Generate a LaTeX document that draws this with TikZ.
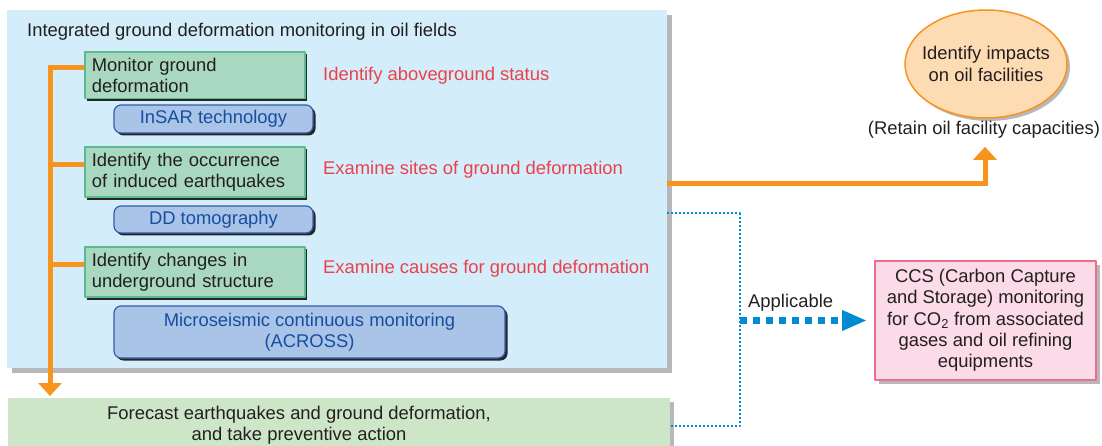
\documentclass[tikz,border=0pt]{standalone}
\usepackage{fontspec}
\setmainfont{Liberation Sans}
\usepackage{tikz}
\usetikzlibrary{arrows.meta}
\usetikzlibrary{calc}
\usetikzlibrary{shadows}
\usetikzlibrary{shapes.geometric}
\definecolor{textdark}{RGB}{35,31,32}
\definecolor{panelblue}{RGB}{212,237,250}
\definecolor{shadowgray}{RGB}{183,183,188}
\definecolor{greenfill}{RGB}{168,216,192}
\definecolor{greenline}{RGB}{92,186,142}
\definecolor{techfill}{RGB}{170,196,232}
\definecolor{techline}{RGB}{52,92,172}
\definecolor{techtext}{RGB}{22,78,160}
\definecolor{notered}{RGB}{234,66,76}
\definecolor{oilorange}{RGB}{247,148,30}
\definecolor{oilfill}{RGB}{253,220,180}
\definecolor{forecastfill}{RGB}{205,230,200}
\definecolor{ccsfill}{RGB}{251,219,232}
\definecolor{ccsline}{RGB}{235,110,140}
\definecolor{dotblue}{RGB}{0,140,210}
\tikzset{
  grayshadow/.style={drop shadow={shadow xshift=#1,shadow yshift=-#1,fill=shadowgray,opacity=1}},
  darkshadow/.style={drop shadow={shadow xshift=2.5pt,shadow yshift=-2.5pt,fill=black!85,opacity=1}},
  panel/.style={fill=panelblue,inner sep=0pt,grayshadow=4.5pt},
  greenbox/.style={draw=greenline,line width=1.6pt,fill=greenfill,minimum width=220pt,minimum height=45pt,
    text width=206pt,inner sep=6pt,align=left,darkshadow},
  techbox/.style={draw=techline,line width=1.2pt,fill=techfill,rounded corners=7pt,text=techtext,
    align=center,inner sep=0pt,darkshadow},
  note/.style={text=notered,anchor=west,inner sep=0pt},
  oilellipse/.style={ellipse,draw=oilorange,line width=1.5pt,fill=oilfill,minimum width=162pt,
    minimum height=108pt,inner xsep=-21pt,inner ysep=0pt,align=center,grayshadow=3pt},
  ccsbox/.style={draw=ccsline,line width=2pt,fill=ccsfill,minimum width=221pt,minimum height=119pt,
    inner sep=0pt,align=center,grayshadow=3.5pt},
  orangeline/.style={draw=oilorange,line width=5pt,line cap=butt,line join=miter},
  bluedot/.style={draw=dotblue,line width=2pt,line cap=butt,dash pattern=on 2pt off 2pt},
  bluearrow/.style={draw=dotblue,line width=7pt,line cap=butt,dash pattern=on 7pt off 6pt,
    -{Triangle[width=19pt,length=25pt]},shorten >=7pt}
}
\begin{document}
\begin{tikzpicture}[line cap=round,line join=round,>={Triangle[width=23pt,length=13pt]},x=1pt,y=-1pt,
  font=\fontsize{18.4}{21.3}\selectfont,text=textdark]
\useasboundingbox (0,0) rectangle (1102,446);
% panels
\node [panel,anchor=north west,minimum width=660pt,minimum height=358pt] (main) at (7,10) {};
\node [anchor=west,inner sep=0pt] (title) at (27,32) {Integrated ground deformation monitoring in oil fields};
\node [fill=forecastfill,inner sep=0pt,anchor=north west,minimum width=662pt,minimum height=60pt,grayshadow=3.5pt] (forecast) at (8,398) {};
\node [align=center,inner sep=0pt] (forecasttext) at (299,425) {Forecast earthquakes and ground deformation,\\and take preventive action};
% steps
\node [greenbox,anchor=north west] (monitor) at (84,51) {Monitor ground\\deformation};
\node [techbox,minimum width=199pt,minimum height=28pt] (insar) at (213.5,119) {InSAR technology};
\node [greenbox,anchor=north west] (quake) at (84,146) {Identify the occurrence\\of induced earthquakes};
\node [techbox,minimum width=199pt,minimum height=27pt] (dd) at (213.5,219.5) {DD tomography};
\node [greenbox,anchor=north west] (struct) at (84,246) {Identify changes in\\underground structure};
\node [techbox,minimum width=391pt,minimum height=52pt] (across) at (309.5,332) {Microseismic continuous monitoring\\(ACROSS)};
\node [note] (status) at (323,76) {Identify aboveground status};
\node [note] (sites) at (323,170) {Examine sites of ground deformation};
\node [note] (causes) at (323,269) {Examine causes for ground deformation};
% outcomes
\node [oilellipse] (impact) at (986,64) {Identify impacts\\on oil facilities};
\node [inner sep=0pt] (retain) at (984,130) {(Retain oil facility capacities)};
\node [ccsbox] (ccs) at (985.5,320.5) {CCS (Carbon Capture\\and Storage) monitoring\\for CO\textsubscript{2} from associated\\gases and oil refining\\equipments};
\node [anchor=west,inner sep=0pt] (applicable) at (748,303) {Applicable};
% connectors
\coordinate (spineend) at (50,396);
\coordinate (branchtwo) at ($(quake.west)+(0,-8)$);
\coordinate (branchthree) at ($(struct.west)+(0,-8)$);
\draw [orangeline,->] ($(monitor.west)+(0,-8)$) -| (spineend);
\draw [orangeline] (branchtwo) -- (branchtwo -| spineend);
\draw [orangeline] (branchthree) -- (branchthree -| spineend);
\coordinate (oilrun) at ($(main.east)+(0,-6)$);
\coordinate (oiltip) at ($(retain.south)+(1,8)$);
\draw [orangeline,->] (oilrun) -| (oiltip);
\coordinate (dotstart) at ($(main.east)+(0,24)$);
\coordinate (dotturn) at (740,426);
\draw [bluedot] (dotstart) -| (dotturn) -- (dotturn -| forecast.east);
\draw [bluearrow] (dotturn |- ccs.west) -- (ccs.west);
\end{tikzpicture}
\end{document}
